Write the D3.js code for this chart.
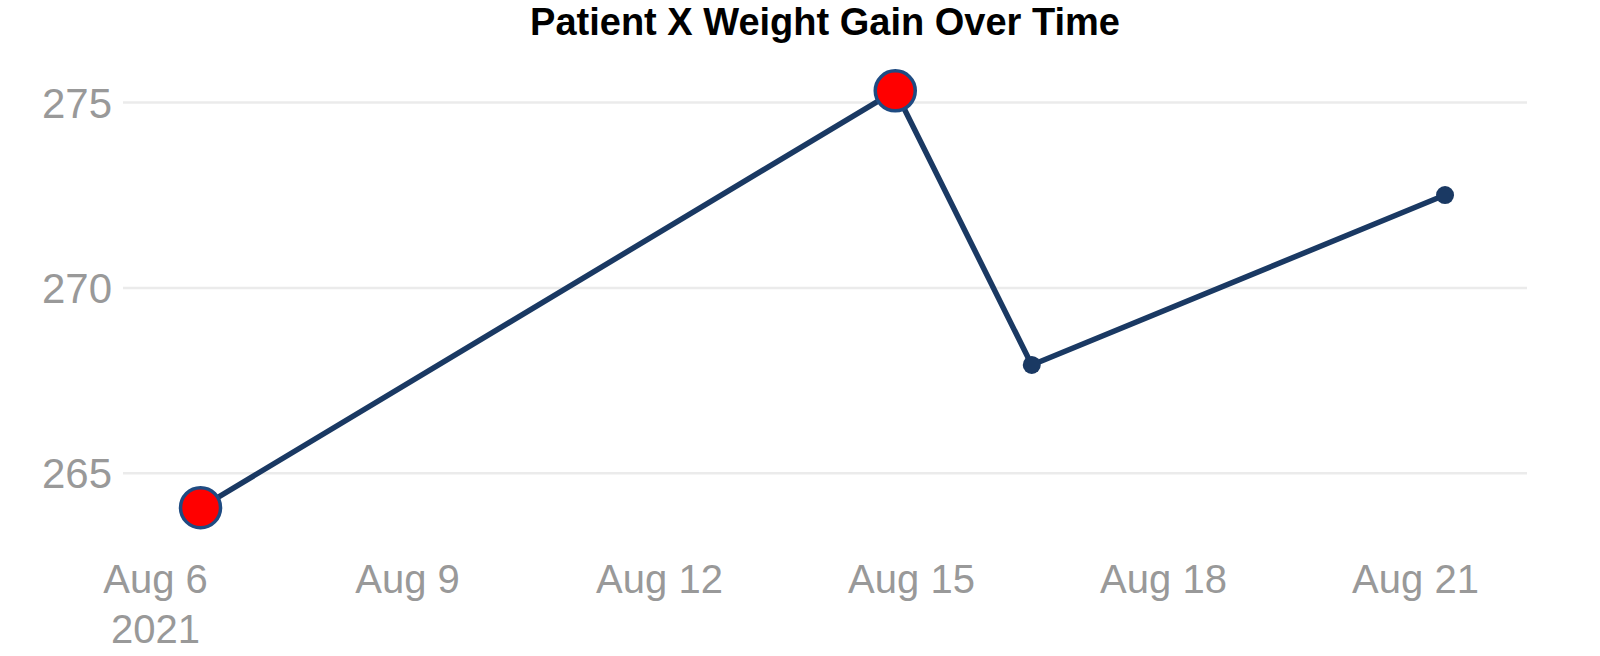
<!DOCTYPE html>
<html>
<head>
<meta charset="utf-8">
<script src="https://cdn.jsdelivr.net/npm/d3@7"></script>
<style>
  body { margin: 0; background: #fff; }
  text { font-family: "Liberation Sans", Arial, Helvetica, sans-serif; }
</style>
</head>
<body>
<div id="chart"></div>
<script>
// data
const dates = ["2021-08-06T13:00", "2021-08-14T19:30", "2021-08-16T10:30", "2021-08-21T08:35"];
const weights = [264.06, 275.30, 267.91, 272.49];
const flagged = [true, true, false, false];
const xTicks = ["2021-08-06", "2021-08-09", "2021-08-12", "2021-08-15", "2021-08-18", "2021-08-21"];
const yTicks = [265, 270, 275];
const title = "Patient X Weight Gain Over Time";

const parseTime = d3.timeParse("%Y-%m-%dT%H:%M");
const parseDay = d3.timeParse("%Y-%m-%d");
const fmtDay = d3.timeFormat("%b %-d");

var data = dates.map((d, i) => ({date: parseTime(d), value: weights[i], flag: flagged[i]}));

var W = 1600, H = 656;
var plot = {left: 123, right: 1527, top: 50, bottom: 530};

const svg = d3.select("#chart")
  .append("svg")
  .attr("width", W)
  .attr("height", H);

svg.append("rect").attr("width", W).attr("height", H).attr("fill", "#fff");

// x scale (time)
const x = d3.scaleTime()
  .domain([parseTime("2021-08-05T14:51"), parseTime("2021-08-22T08:00")])
  .range([plot.left, plot.right]);

// y scale
const y = d3.scaleLinear()
  .domain([263.46, 276.40])
  .range([plot.bottom, plot.top]);

// y gridlines + labels
const gy = svg.append("g")
  .attr("transform", `translate(${plot.left},0)`)
  .call(d3.axisLeft(y).tickValues(yTicks).tickSize(-(plot.right - plot.left)).tickPadding(11));
gy.select(".domain").remove();
gy.selectAll("line").attr("stroke", "#ebebeb").attr("stroke-width", 2.5);
gy.selectAll("text")
  .attr("fill", "#999")
  .attr("font-size", 42)
  .attr("dy", "0.36em");

// x labels
const gx = svg.append("g")
  .attr("transform", `translate(0,${plot.bottom})`)
  .call(d3.axisBottom(x).tickValues(xTicks.map(parseDay)).tickSize(0).tickFormat(fmtDay));
gx.select(".domain").remove();
gx.selectAll("text")
  .attr("fill", "#999")
  .attr("font-size", 40)
  .attr("y", 63)
  .attr("dy", null)
  .each(function(d, i) {
    if (i == 0) {
      d3.select(this).append("tspan")
        .attr("x", 0)
        .attr("dy", 50)
        .text(d3.timeFormat("%Y")(d));
    }
  });

// line
const line = d3.line()
  .x(d => x(d.date))
  .y(d => y(d.value));

svg.append("path")
  .datum(data)
  .attr("fill", "none")
  .attr("stroke", "#1a3963")
  .attr("stroke-width", 5.5)
  .attr("stroke-linejoin", "round")
  .attr("d", line);

// markers
svg.append("g")
  .selectAll("circle")
  .data(data)
  .join("circle")
  .attr("cx", d => x(d.date))
  .attr("cy", d => y(d.value))
  .attr("r", d => d.flag ? 20 : 9)
  .attr("fill", d => d.flag ? "#ff0000" : "#1a3963")
  .attr("stroke", d => d.flag ? "#1f4b82" : "none")
  .attr("stroke-width", 3.5);

// title
svg.append("text")
  .attr("x", (plot.left + plot.right) / 2)
  .attr("y", 35)
  .attr("text-anchor", "middle")
  .attr("font-size", 38)
  .attr("font-weight", "bold")
  .attr("fill", "#000")
  .text(title);
</script>
</body>
</html>
